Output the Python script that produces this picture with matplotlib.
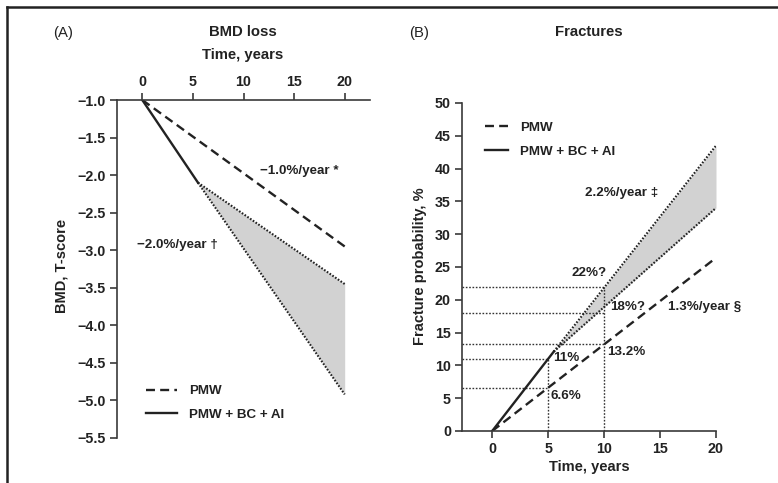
import matplotlib
matplotlib.use("Agg")
import matplotlib.pyplot as plt
from matplotlib import font_manager as fm
from matplotlib.lines import Line2D

# ---------------- data ----------------
# Panel A: BMD T-score over time
bmd_years = [0, 20]
bmd_pmw = [-1.0, -2.95]                    # PMW, -1.0%/year
bmd_ai_years = [0, 5.5]
bmd_ai = [-1.0, -2.10]                     # PMW + BC + AI, -2.0%/year
bmd_fan_years = [5.5, 20]
bmd_fan_upper = [-2.10, -3.45]
bmd_fan_lower = [-2.10, -4.92]
bmd_xticks = [0, 5, 10, 15, 20]
bmd_yticks = [-1.0, -1.5, -2.0, -2.5, -3.0, -3.5, -4.0, -4.5, -5.0, -5.5]

# Panel B: fracture probability over time
fx_years = [0, 20]
fx_pmw = [0, 26.4]                         # PMW, 1.3%/year
fx_ai_years = [0, 5.5]
fx_ai = [0, 12.1]                          # PMW + BC + AI
fx_fan_years = [5.5, 20]
fx_fan_upper = [12.1, 43.5]                # 2.2%/year
fx_fan_lower = [12.1, 34.0]
fx_xticks = [0, 5, 10, 15, 20]
fx_yticks = [0, 5, 10, 15, 20, 25, 30, 35, 40, 45, 50]
# guide values read at 5 and 10 years
guide_at10 = [22.0, 18.0, 13.2]
guide_at5 = [11.0, 6.6]
guide_labels10 = ["22%?", "18%?", "13.2%"]
guide_labels5 = ["11%", "6.6%"]

# ---------------- fonts ----------------
names = {f.name for f in fm.fontManager.ttflist}
if "Liberation Sans Narrow" in names:
    FAMILY = ["Liberation Sans Narrow", "DejaVu Sans"]
    S = 1.0
else:
    FAMILY = ["Liberation Sans", "DejaVu Sans"]
    S = 0.84
plt.rcParams["font.family"] = FAMILY
plt.rcParams["font.weight"] = "bold"
plt.rcParams["axes.labelweight"] = "bold"

TICK = 12.2 * S
LAB = 12.5 * S
ANN = 11.5 * S
HEAD = 12.8 * S

INK = "#222222"
AXC = "#3a3a3a"
FILL = "#d2d2d2"

W, H = 778, 483
fig = plt.figure(figsize=(W / 100, H / 100), dpi=100)


def fx(px):
    return px / W


def fy(py):
    return 1 - py / H


# outer frame (top and left edges)
fig.add_artist(Line2D([fx(7), 1.0], [fy(7), fy(7)], color=INK, lw=1.8))
fig.add_artist(Line2D([fx(7), fx(7)], [0, fy(7)], color=INK, lw=1.8))

DASH = (0, (3.8, 2.2))
DOT = (0, (0.8, 0.8))

# ---------------- panel A ----------------
axA = fig.add_axes([fx(117), fy(438), fx(370) - fx(117), fy(100) - fy(438)])
axA.set_xlim(-2.5, 22.5)
axA.set_ylim(-5.5, -1.0)
for s in ("bottom", "right"):
    axA.spines[s].set_visible(False)
for s in ("top", "left"):
    axA.spines[s].set_color(AXC)
    axA.spines[s].set_linewidth(1.2)
axA.xaxis.tick_top()
axA.set_xticks(bmd_xticks)
axA.set_xticklabels([str(v) for v in bmd_xticks])
axA.set_yticks(bmd_yticks)
axA.set_yticklabels([f"{v:.1f}".replace("-", "\u2212") for v in bmd_yticks])
axA.tick_params(axis="both", direction="out", length=5, width=1.2, color=AXC,
                labelsize=TICK, pad=3, labelcolor=INK)

axA.fill_between(bmd_fan_years, bmd_fan_lower, bmd_fan_upper, color=FILL, lw=0)
axA.plot(bmd_years, bmd_pmw, color=INK, lw=1.7, ls=DASH, label="PMW")
axA.plot(bmd_ai_years, bmd_ai, color=INK, lw=1.7, label="PMW + BC + AI")
axA.plot(bmd_fan_years, bmd_fan_upper, color=INK, lw=1.5, ls=DOT)
axA.plot(bmd_fan_years, bmd_fan_lower, color=INK, lw=1.5, ls=DOT)

axA.text(11.6, -1.94, "\u22121.0%/year *", fontsize=ANN, color=INK, va="center")
axA.text(-0.5, -2.93, "\u22122.0%/year \u2020", fontsize=ANN, color=INK, va="center")

axA.set_ylabel("BMD, T-score", fontsize=LAB, color=INK)
axA.yaxis.set_label_coords(-0.193, 0.51)

legA = axA.legend(loc="upper left", bbox_to_anchor=(0.115, 0.157), frameon=False,
                  fontsize=ANN, handlelength=2.3, handletextpad=0.9,
                  labelspacing=0.85, borderpad=0, borderaxespad=0)
for t in legA.get_texts():
    t.set_color(INK)

fig.text(fx(63), fy(33), "(A)", fontsize=HEAD, fontweight="normal", color=INK,
         ha="center", va="center")
fig.text(fx(243), fy(32), "BMD loss", fontsize=HEAD, color=INK, ha="center", va="center")
fig.text(fx(243), fy(55), "Time, years", fontsize=HEAD, color=INK, ha="center", va="center")

# ---------------- panel B ----------------
axB = fig.add_axes([fx(462), fy(431), fx(716) - fx(462), fy(103) - fy(431)])
axB.set_xlim(-2.7, 20)
axB.set_ylim(0, 50)
for s in ("top", "right"):
    axB.spines[s].set_visible(False)
for s in ("bottom", "left"):
    axB.spines[s].set_color(AXC)
    axB.spines[s].set_linewidth(1.2)
axB.set_xticks(fx_xticks)
axB.set_xticklabels([str(v) for v in fx_xticks])
axB.set_yticks(fx_yticks)
axB.set_yticklabels([str(v) for v in fx_yticks])
axB.tick_params(axis="both", direction="out", length=5, width=1.2, color=AXC,
                labelsize=TICK, pad=3, labelcolor=INK)

GUIDE = dict(color="#333333", lw=1.0, ls=(0, (1.2, 1.2)))
x0 = axB.get_xlim()[0]
for v in guide_at10:
    axB.plot([x0, 10], [v, v], **GUIDE)
for v in guide_at5:
    axB.plot([x0, 5], [v, v], **GUIDE)
axB.plot([10, 10], [0, max(guide_at10)], **GUIDE)
axB.plot([5, 5], [0, max(guide_at5)], **GUIDE)

axB.fill_between(fx_fan_years, fx_fan_lower, fx_fan_upper, color=FILL, lw=0)
axB.plot(fx_years, fx_pmw, color=INK, lw=1.7, ls=DASH, label="PMW")
axB.plot(fx_ai_years, fx_ai, color=INK, lw=1.7, label="PMW + BC + AI")
axB.plot(fx_fan_years, fx_fan_upper, color=INK, lw=1.5, ls=DOT)
axB.plot(fx_fan_years, fx_fan_lower, color=INK, lw=1.5, ls=DOT)

axB.text(7.05, 24.1, guide_labels10[0], fontsize=ANN, color=INK, va="center")
axB.text(10.5, 18.9, guide_labels10[1], fontsize=ANN, color=INK, va="center")
axB.text(10.3, 12.0, guide_labels10[2], fontsize=ANN, color=INK, va="center")
axB.text(5.45, 11.1, guide_labels5[0], fontsize=ANN, color=INK, va="center")
axB.text(5.2, 5.3, guide_labels5[1], fontsize=ANN, color=INK, va="center")
axB.text(15.7, 18.9, "1.3%/year \u00a7", fontsize=ANN, color=INK, va="center")
axB.text(8.3, 36.3, "2.2%/year \u2021", fontsize=ANN, color=INK, va="center")

axB.set_ylabel("Fracture probability, %", fontsize=LAB, color=INK)
axB.yaxis.set_label_coords(-0.138, 0.503)
axB.set_xlabel("Time, years", fontsize=LAB, color=INK, labelpad=3)

legB = axB.legend(loc="upper left", bbox_to_anchor=(0.09, 0.943), frameon=False,
                  fontsize=ANN, handlelength=1.7, handletextpad=0.9,
                  labelspacing=0.85, borderpad=0, borderaxespad=0)
for t in legB.get_texts():
    t.set_color(INK)

fig.text(fx(419), fy(33), "(B)", fontsize=HEAD, fontweight="normal", color=INK,
         ha="center", va="center")
fig.text(fx(589), fy(32), "Fractures", fontsize=HEAD, color=INK, ha="center", va="center")

fig.savefig("out.png", dpi=100, facecolor="white")
